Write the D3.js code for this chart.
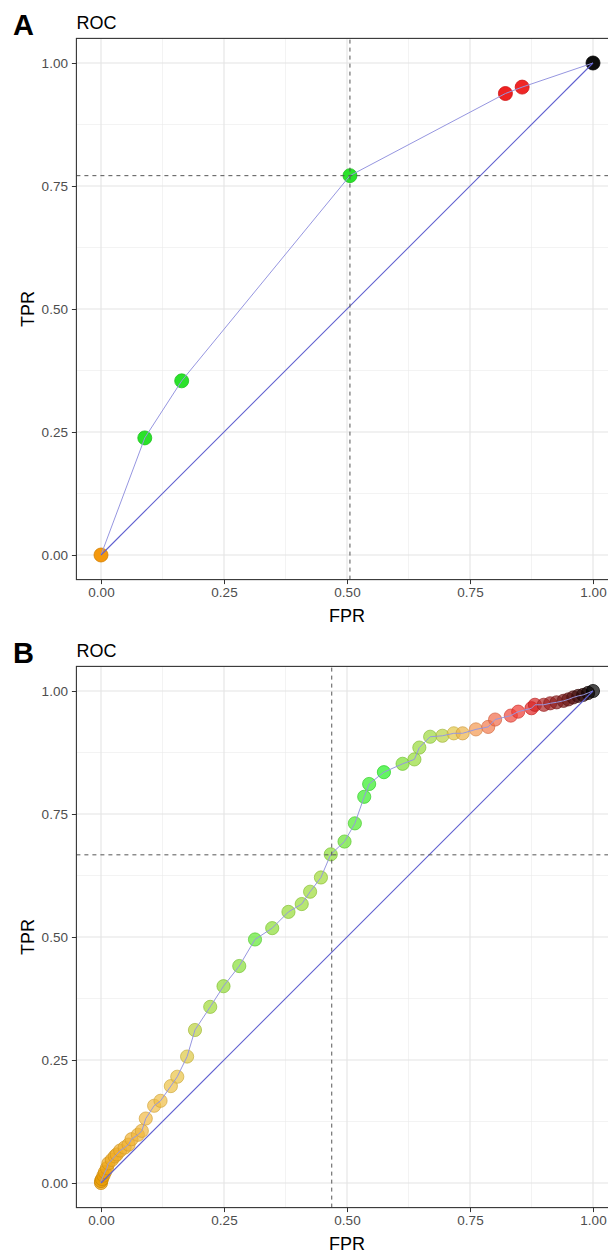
<!DOCTYPE html>
<html lang="en">
<head>
<meta charset="UTF-8">
<title>ROC curves</title>
<script src="https://d3js.org/d3.v7.min.js"></script>
<style>
  body { margin: 0; background: #fff; }
  svg { display: block; font-family: "Liberation Sans", Arial, sans-serif; }
  .axis-title { font-size: 18px; fill: #000; }
  .panel-title { font-size: 18px; fill: #000; }
  .panel-tag { font-size: 29px; font-weight: bold; fill: #000; }
</style>
</head>
<body>
<svg id="chart" width="608" height="1252"></svg>
<script>
// Panel A: few cut-off points
const fprA = [0, 0.089, 0.164, 0.506, 0.822, 0.856, 1];
const tprA = [0, 0.238, 0.354, 0.771, 0.938, 0.951, 1];
const cutA = { fpr: 0.506, tpr: 0.771 };

// Panel B: many cut-off points
const fprB = [0, 0, 0.002, 0.005, 0.008, 0.012, 0.015, 0.022, 0.028, 0.032, 0.039, 0.048, 0.056, 0.062,
  0.075, 0.083, 0.091, 0.108, 0.121, 0.142, 0.155, 0.175, 0.191, 0.222, 0.249, 0.281, 0.313,
  0.348, 0.381, 0.408, 0.425, 0.447, 0.467, 0.495, 0.516, 0.535, 0.545, 0.575, 0.613, 0.637,
  0.647, 0.669, 0.694, 0.717, 0.735, 0.762, 0.787, 0.801, 0.833, 0.848, 0.875, 0.882, 0.9,
  0.913, 0.926, 0.94, 0.95, 0.96, 0.97, 0.98, 0.99, 1];
const tprB = [0, 0.004, 0.008, 0.015, 0.022, 0.03, 0.04, 0.047, 0.054, 0.058, 0.066, 0.072, 0.078, 0.089,
  0.098, 0.106, 0.131, 0.157, 0.167, 0.197, 0.216, 0.257, 0.311, 0.358, 0.4, 0.441, 0.495,
  0.518, 0.551, 0.567, 0.592, 0.621, 0.668, 0.694, 0.731, 0.785, 0.811, 0.835, 0.852, 0.861,
  0.885, 0.907, 0.909, 0.914, 0.914, 0.922, 0.927, 0.942, 0.95, 0.958, 0.965, 0.972, 0.972,
  0.975, 0.977, 0.98, 0.983, 0.987, 0.99, 0.992, 0.996, 1];
const cutB = { fpr: 0.469, tpr: 0.667 };

const tickValues = [0, 0.25, 0.5, 0.75, 1];
const minorValues = [0.125, 0.375, 0.625, 0.875];

const colorA = d3.scaleLinear()
  .domain([0, 0.05, 0.6, 0.8, 0.9, 1])
  .range(["#f39200", "#1fe01f", "#1fe01f", "#ee1111", "#ee2222", "#000000"])
  .clamp(true);

const colorB = d3.scaleLinear()
  .domain([0, 0.02, 0.1, 0.17, 0.2, 0.3, 0.32, 0.35, 0.45, 0.53, 0.58, 0.62, 0.68, 0.72, 0.76, 0.82, 0.87, 0.9, 0.95, 1])
  .range(["#e89a00", "#efa920", "#f2bb45", "#e8c545", "#a8d838", "#7ee035", "#50ea30", "#90dc35",
          "#a0da38", "#3cec2a", "#1ef01e", "#90dc35", "#a0d840", "#e8c445", "#f49a50", "#f05545",
          "#ee2222", "#b02525", "#6a1515", "#000000"])
  .clamp(true);

const svg = d3.select("#chart");

function drawPanel(offset, tag, fpr, tpr, cut, color, opts) {
  const g = svg.append("g").attr("transform", `translate(0,${offset})`);
  const x = d3.scaleLinear().domain([-0.05, 1.05]).range([76.4, 617.6]);
  const y = d3.scaleLinear().domain([-0.05, 1.05]).range([579.6, 38.4]);
  const pts = fpr.map((f, i) => ({ fpr: f, tpr: tpr[i] }));

  // grid
  g.selectAll(".minx").data(minorValues).join("line").attr("class", "minx")
    .attr("x1", d => x(d)).attr("x2", d => x(d)).attr("y1", y(-0.05)).attr("y2", y(1.05))
    .attr("stroke", "#ebebeb").attr("stroke-width", 0.6);
  g.selectAll(".miny").data(minorValues).join("line").attr("class", "miny")
    .attr("y1", d => y(d)).attr("y2", d => y(d)).attr("x1", x(-0.05)).attr("x2", x(1.05))
    .attr("stroke", "#ebebeb").attr("stroke-width", 0.6);
  g.selectAll(".majx").data(tickValues).join("line").attr("class", "majx")
    .attr("x1", d => x(d)).attr("x2", d => x(d)).attr("y1", y(-0.05)).attr("y2", y(1.05))
    .attr("stroke", "#e4e4e4").attr("stroke-width", 1.1);
  g.selectAll(".majy").data(tickValues).join("line").attr("class", "majy")
    .attr("y1", d => y(d)).attr("y2", d => y(d)).attr("x1", x(-0.05)).attr("x2", x(1.05))
    .attr("stroke", "#e4e4e4").attr("stroke-width", 1.1);

  // points
  g.selectAll(".pt").data(pts).join("circle").attr("class", "pt")
    .attr("cx", d => x(d.fpr)).attr("cy", d => y(d.tpr)).attr("r", opts.r)
    .attr("fill", d => color(d.fpr)).attr("fill-opacity", opts.alpha)
    .attr("stroke", d => d3.color(color(d.fpr)).darker(0.4)).attr("stroke-opacity", Math.min(1, opts.alpha + 0.15))
    .attr("stroke-width", 0.8);

  // curve through the points
  const line = d3.line().x(d => x(d.fpr)).y(d => y(d.tpr));
  g.append("path").datum(pts).attr("d", line)
    .style("fill", "none").style("stroke", "#9696e0").style("stroke-width", 1);

  // chance diagonal
  g.append("path").datum([{ fpr: 0, tpr: 0 }, { fpr: 1, tpr: 1 }]).attr("d", line)
    .style("fill", "none").style("stroke", "#6060d0").style("stroke-width", 1.1);

  // optimal cut-off
  g.append("line").attr("x1", x(cut.fpr)).attr("x2", x(cut.fpr)).attr("y1", y(-0.05)).attr("y2", y(1.05))
    .attr("stroke", "#555").attr("stroke-width", 1).attr("stroke-dasharray", "4,4");
  g.append("line").attr("y1", y(cut.tpr)).attr("y2", y(cut.tpr)).attr("x1", x(-0.05)).attr("x2", x(1.05))
    .attr("stroke", "#555").attr("stroke-width", 1).attr("stroke-dasharray", "4,4");

  // panel border
  g.append("rect").attr("x", x(-0.05)).attr("y", y(1.05))
    .attr("width", x(1.05) - x(-0.05)).attr("height", y(-0.05) - y(1.05))
    .attr("fill", "none").attr("stroke", "#333").attr("stroke-width", 1.1);

  // axes
  const fmt = d3.format(".2f");
  const styleAxis = a => {
    a.select(".domain").remove();
    a.attr("font-size", null).attr("font-family", null);
    a.selectAll(".tick line").attr("stroke", "#333");
    a.selectAll(".tick text").attr("fill", "#4d4d4d")
      .style("font-size", "13.5px").style("font-family", "'Liberation Sans', Arial, sans-serif");
  };
  g.append("g").attr("transform", `translate(0,${y(-0.05)})`)
    .call(d3.axisBottom(x).tickValues(tickValues).tickFormat(fmt).tickSize(4.5).tickPadding(3))
    .call(styleAxis);
  g.append("g").attr("transform", `translate(${x(-0.05)},0)`)
    .call(d3.axisLeft(y).tickValues(tickValues).tickFormat(fmt).tickSize(4.5).tickPadding(4))
    .call(styleAxis);

  g.append("text").attr("class", "axis-title").attr("x", 347).attr("y", 621.5)
    .attr("text-anchor", "middle").text("FPR");
  g.append("text").attr("class", "axis-title")
    .attr("transform", `translate(33.5,${(y(-0.05) + y(1.05)) / 2}) rotate(-90)`)
    .attr("text-anchor", "middle").text("TPR");
  g.append("text").attr("class", "panel-title").attr("x", 76.5).attr("y", 28.5).text("ROC");
  g.append("text").attr("class", "panel-tag").attr("x", 13).attr("y", 34.5).text(tag);
}

drawPanel(0, "A", fprA, tprA, cutA, colorA, { r: 7, alpha: 0.95 });
drawPanel(628, "B", fprB, tprB, cutB, colorB, { r: 6.6, alpha: 0.7 });
</script>
</body>
</html>
